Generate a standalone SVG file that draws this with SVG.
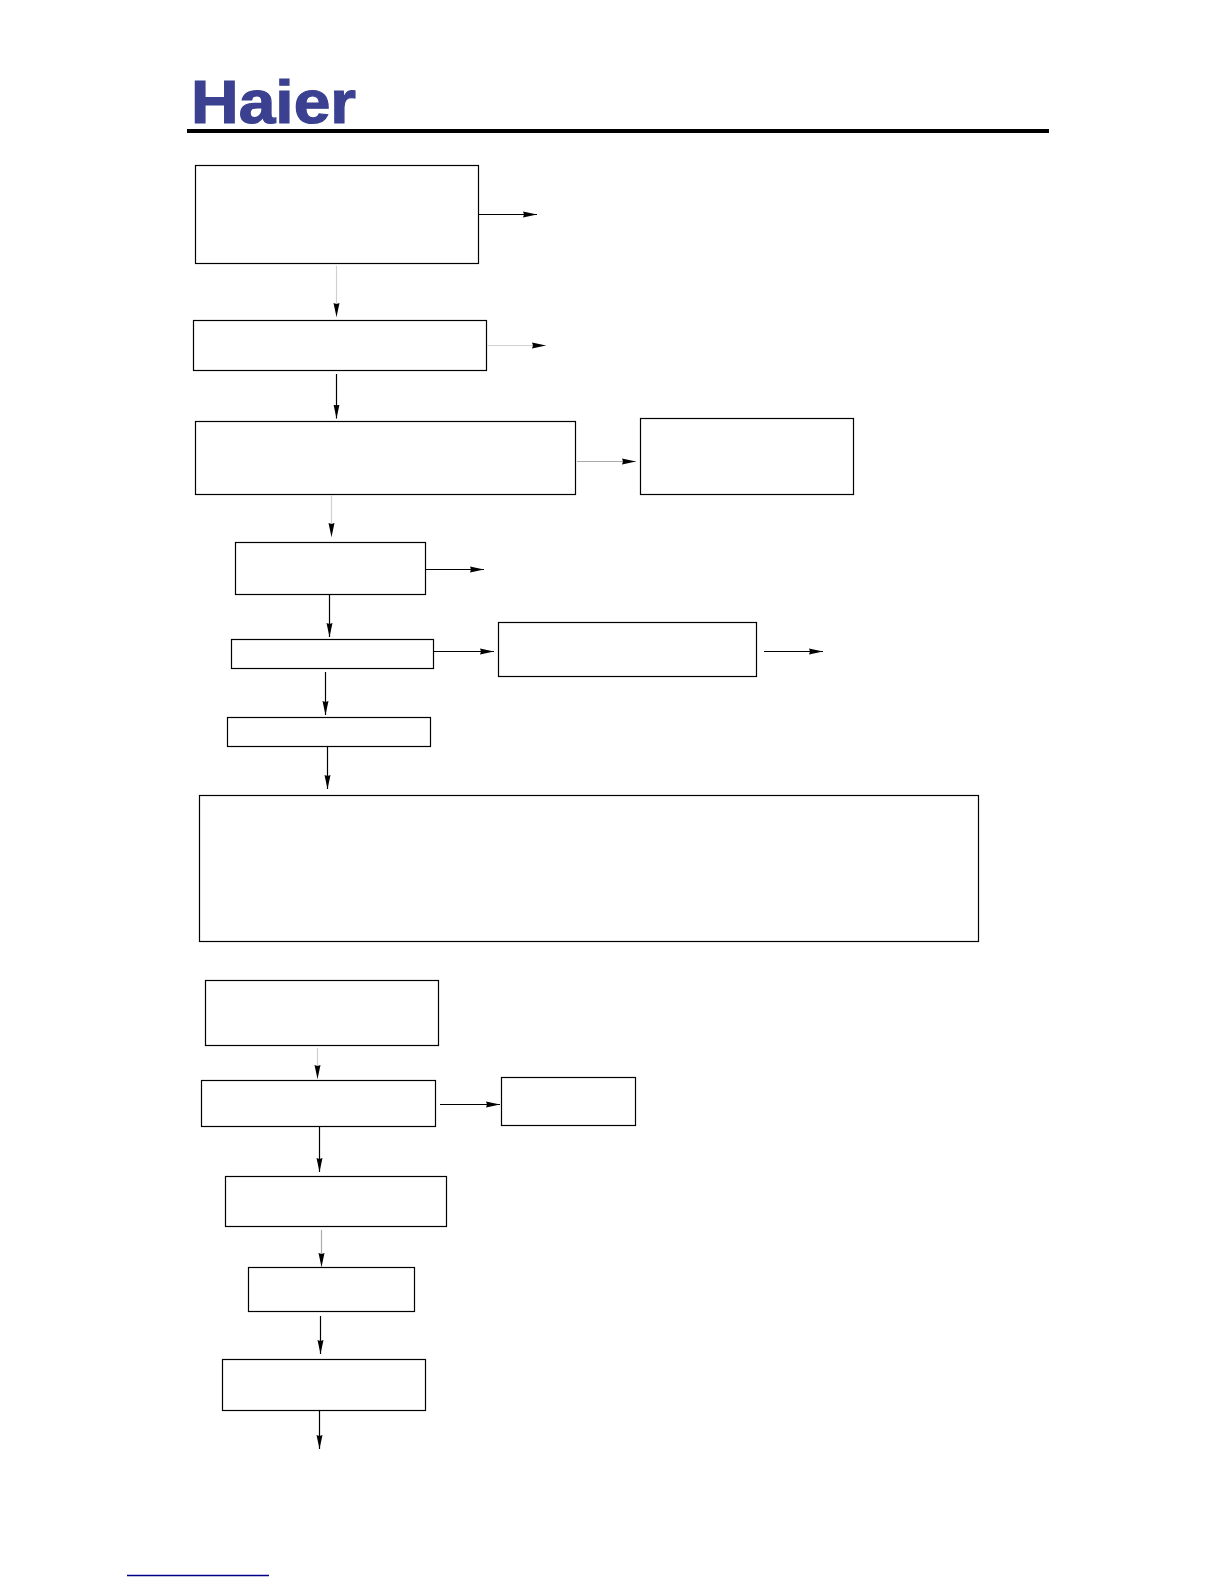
<svg xmlns="http://www.w3.org/2000/svg" width="1224" height="1584" viewBox="0 0 1224 1584">
<style>
.n{fill:#fff;stroke:#000;stroke-width:1.2}
.k{fill:none;stroke:#000;stroke-width:1.2;marker-end:url(#a)}
.g{fill:none;stroke:#aaa;stroke-width:1.2;marker-end:url(#a)}
.l{fill:none;stroke:#d0d0d0;stroke-width:1.2;marker-end:url(#a)}
.logo{font-family:"Liberation Sans",Arial,sans-serif;font-weight:700;font-size:61px;fill:#3b4190;stroke:#3b4190;stroke-width:1.2}
</style>
<defs>
<marker id="a" markerUnits="userSpaceOnUse" markerWidth="15" markerHeight="8" refX="14" refY="4" orient="auto">
<path d="M0,1 L14,4 L0,7 L1,4 Z" fill="#000"/>
</marker>
</defs>
<rect width="1224" height="1584" fill="#fff"/>
<g id="header">
<text class="logo" x="191" y="123" textLength="165" lengthAdjust="spacingAndGlyphs">Haier</text>
<rect x="187" y="129" width="862" height="4" fill="#000"/>
</g>
<g id="nodes">
<g id="n1"><rect class="n" x="195.5" y="165.5" width="283" height="98"/></g>
<g id="n2"><rect class="n" x="193.5" y="320.5" width="293" height="50"/></g>
<g id="n3"><rect class="n" x="195.5" y="421.5" width="380" height="73"/></g>
<g id="n4"><rect class="n" x="640.5" y="418.5" width="213" height="76"/></g>
<g id="n5"><rect class="n" x="235.5" y="542.5" width="190" height="52"/></g>
<g id="n6"><rect class="n" x="231.5" y="639.5" width="202" height="29"/></g>
<g id="n7"><rect class="n" x="498.5" y="622.5" width="258" height="54"/></g>
<g id="n8"><rect class="n" x="227.5" y="717.5" width="203" height="29"/></g>
<g id="n9"><rect class="n" x="199.5" y="795.5" width="779" height="146"/></g>
<g id="n10"><rect class="n" x="205.5" y="980.5" width="233" height="65"/></g>
<g id="n11"><rect class="n" x="201.5" y="1080.5" width="234" height="46"/></g>
<g id="n12"><rect class="n" x="501.5" y="1077.5" width="134" height="48"/></g>
<g id="n13"><rect class="n" x="225.5" y="1176.5" width="221" height="50"/></g>
<g id="n14"><rect class="n" x="248.5" y="1267.5" width="166" height="44"/></g>
<g id="n15"><rect class="n" x="222.5" y="1359.5" width="203" height="51"/></g>
</g>
<g id="connectors">
<path class="k" d="M478,214.5H537"/>
<path class="l" d="M336.5,266V317"/>
<path class="l" d="M487,345.5H546"/>
<path class="k" d="M336.5,374V418.5"/>
<path class="g" d="M577,461.5H636"/>
<path class="l" d="M331.5,495V537"/>
<path class="k" d="M426,569.5H484"/>
<path class="k" d="M329.5,595V637"/>
<path class="k" d="M434,651.5H494"/>
<path class="k" d="M764,651.5H823"/>
<path class="k" d="M325.5,672V715"/>
<path class="k" d="M327.5,747V789"/>
<path class="l" d="M317.5,1048V1079"/>
<path class="k" d="M440,1104.5H500"/>
<path class="k" d="M319.5,1127V1172"/>
<path class="g" d="M321.5,1230V1267"/>
<path class="k" d="M320.5,1316V1354"/>
<path class="k" d="M319.5,1411V1449"/>
</g>
<path id="footer-line" d="M127,1575.5H269" fill="none" stroke="#00008b" stroke-width="1.3"/>
</svg>
